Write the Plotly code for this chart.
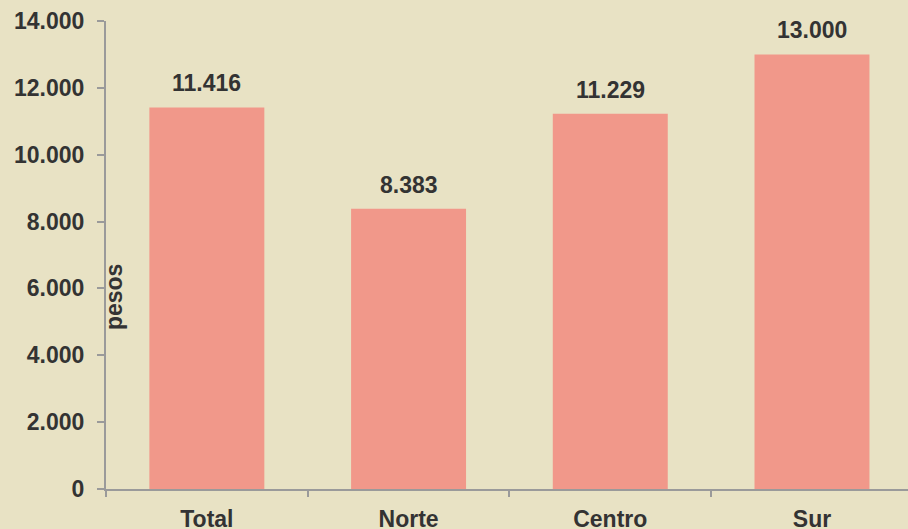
import plotly.graph_objects as go

# categories and values (pesos)
regions = ["Total", "Norte", "Centro", "Sur"]
values = [11416, 8383, 11229, 13000]
y_ticks = [0, 2000, 4000, 6000, 8000, 10000, 12000, 14000]

bg = "#E8E2C4"
bar_color = "#F1988A"
txt = "#333333"
axis_grey = "#9A9A9A"
font = "Liberation Sans, Arial, sans-serif"
fsize = 23

fig = go.Figure()
fig.add_trace(go.Bar(
    x=regions, y=values,
    marker=dict(color=bar_color, line=dict(width=0)),
    hoverinfo="x+y",
))

# value labels above bars
for r, v in zip(regions, values):
    fig.add_annotation(
        x=r, y=v, text=f"{v:,}".replace(",", "."),
        showarrow=False, yanchor="bottom", yshift=9,
        font=dict(family=font, size=fsize, color=txt, weight="bold"),
    )

# "pesos" label sits inside the plot, next to the axis
fig.add_annotation(
    xref="paper", yref="paper", x=0.0, y=0.41, xshift=-7,
    text="pesos", textangle=-90, showarrow=False,
    xanchor="left", yanchor="middle",
    font=dict(family=font, size=fsize, color=txt, weight="bold"),
)

fig.update_layout(
    width=908, height=529,
    paper_bgcolor=bg, plot_bgcolor=bg,
    margin=dict(l=106, r=0, t=21, b=40, autoexpand=False),
    separators=",.",
    bargap=0.43,
    showlegend=False,
    font=dict(family=font, color=txt),
)
fig.update_xaxes(
    range=[-0.5, 3.476], automargin=False,
    showline=True, linecolor=axis_grey, linewidth=2,
    ticks="outside", tickson="boundaries", ticklen=6, tickcolor=axis_grey, tickwidth=2,
    tickfont=dict(family=font, size=fsize, color=txt, weight="bold"),
    ticklabelstandoff=8,
    showgrid=False, zeroline=False,
)
fig.update_yaxes(
    range=[0, 14000], tickvals=y_ticks, automargin=False,
    tickformat=",d",
    showline=True, linecolor=axis_grey, linewidth=2,
    ticks="outside", ticklen=7, tickcolor=axis_grey, tickwidth=2,
    tickfont=dict(family=font, size=fsize, color=txt, weight="bold"),
    ticklabelstandoff=8,
    showgrid=False, zeroline=False,
)

# drop the page's default body margin so the figure fills the window
fig.write_html("out.html", config={"displayModeBar": False},
               post_script="document.body.style.margin='0';")
